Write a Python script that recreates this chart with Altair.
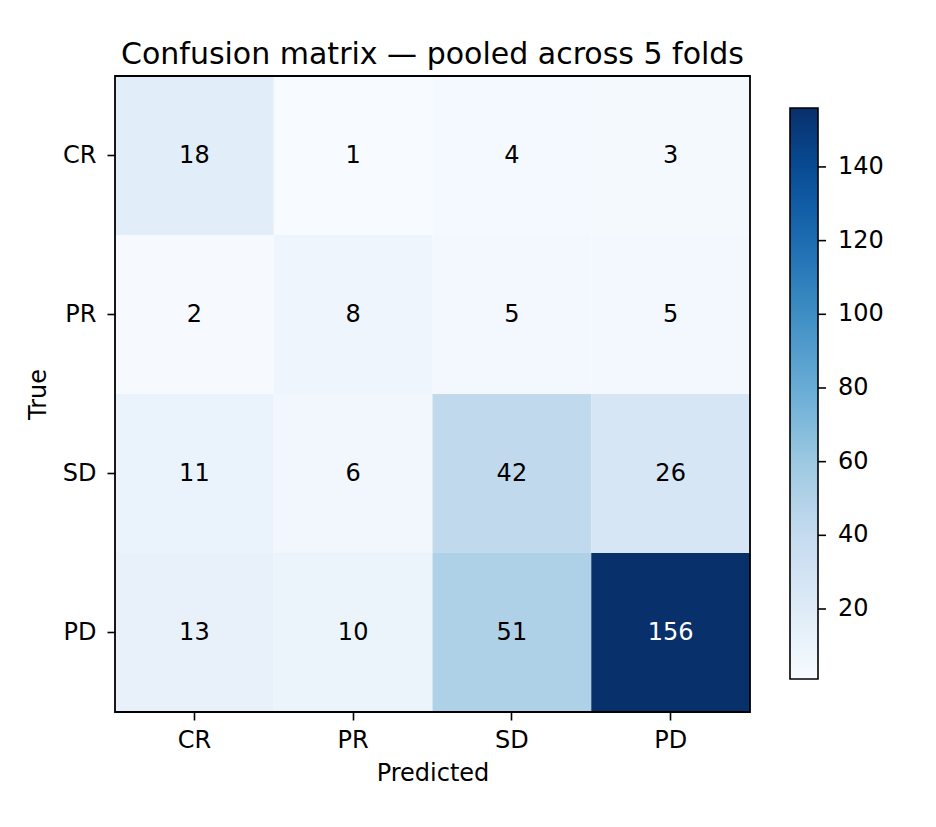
import altair as alt
import pandas as pd

classes = ["CR", "PR", "SD", "PD"]
counts = [
    [18, 1, 4, 3],
    [2, 8, 5, 5],
    [11, 6, 42, 26],
    [13, 10, 51, 156],
]
blues = ["#f7fbff", "#deebf7", "#c6dbef", "#9ecae1", "#6baed6",
         "#4292c6", "#2171b5", "#08519c", "#08306b"]
cbar_ticks = [20, 40, 60, 80, 100, 120, 140]

rows = []
for i, t in enumerate(classes):
    for j, p in enumerate(classes):
        rows.append({"True": t, "Predicted": p, "count": counts[i][j]})
df = pd.DataFrame(rows)

vmin = min(min(r) for r in counts)
vmax = max(max(r) for r in counts)
thresh = vmax / 2
stops = [vmin + (vmax - vmin) * k / (len(blues) - 1) for k in range(len(blues))]

FONT = "DejaVu Sans"
W, H = 635, 636
CB_X, CB_Y, CB_W, CB_H = 675, 32, 28, 571

x_enc = alt.X("Predicted:N", sort=classes,
              scale=alt.Scale(paddingInner=0, paddingOuter=0),
              axis=alt.Axis(title="Predicted", labelAngle=0, domain=False,
                            ticks=True, tickSize=8, tickWidth=1.6, tickColor="black",
                            labelPadding=8, labelFontSize=24, labelColor="black",
                            titleFontSize=24, titleFontWeight="normal", titleColor="black",
                            titleY=61, titleBaseline="middle", titleX=W / 2, titleAlign="center",
                            labelFont=FONT, titleFont=FONT))
y_enc = alt.Y("True:N", sort=classes,
              scale=alt.Scale(paddingInner=0, paddingOuter=0),
              axis=alt.Axis(title="True", domain=False,
                            ticks=True, tickSize=8, tickWidth=1.6, tickColor="black",
                            labelPadding=11, labelFontSize=24, labelColor="black",
                            titleFontSize=24, titleFontWeight="normal", titleColor="black",
                            titleX=-77, titleY=H / 2, titleAngle=270,
                            titleBaseline="middle", titleAlign="center",
                            labelFont=FONT, titleFont=FONT))

base = alt.Chart(df).encode(x=x_enc, y=y_enc)

rect = base.mark_rect().encode(
    color=alt.Color("count:Q",
                    scale=alt.Scale(domain=stops, range=blues, interpolate="rgb"),
                    legend=alt.Legend(title=None, orient="none", legendX=CB_X, legendY=CB_Y,
                                      direction="vertical", gradientLength=CB_H,
                                      gradientThickness=CB_W, gradientStrokeColor="black",
                                      gradientStrokeWidth=1.6, values=cbar_ticks,
                                      labelFontSize=24, labelFont=FONT, labelColor="black",
                                      labelOffset=20, labelOverlap=False, padding=0))
)

text = base.mark_text(fontSize=24, font=FONT, align="center", baseline="middle").encode(
    text="count:Q",
    color=alt.condition(alt.datum.count > thresh, alt.value("white"), alt.value("black")),
)

heat = alt.layer(rect, text)

tick_df = pd.DataFrame({"v": cbar_ticks})
cb_ticks = alt.Chart(tick_df).mark_rule(color="black", strokeWidth=1.6).encode(
    y=alt.Y("v:Q", scale=alt.Scale(domain=[vmin, vmax], range=[CB_Y + CB_H, CB_Y]), axis=None),
    x=alt.value(CB_X + CB_W),
    x2=alt.value(CB_X + CB_W + 8),
)

frame = alt.Chart(pd.DataFrame({"f": [0]})).mark_rect(
    fill=None, stroke="black", strokeWidth=1.8
).encode(x=alt.value(0), x2=alt.value(W), y=alt.value(0), y2=alt.value(H))

chart = alt.layer(heat, cb_ticks, frame).resolve_scale(y="independent").properties(
    width=W, height=H,
    title=alt.TitleParams("Confusion matrix — pooled across 5 folds", fontSize=30,
                          font=FONT, fontWeight="normal", color="black",
                          anchor="middle", offset=5),
    autosize=alt.AutoSizeParams(type="none"),
    padding={"left": 115, "top": 76, "right": 186, "bottom": 115},
).configure_view(stroke=None).configure(background="white")

chart.save("out.html", embed_options={"renderer": "svg", "actions": False})
